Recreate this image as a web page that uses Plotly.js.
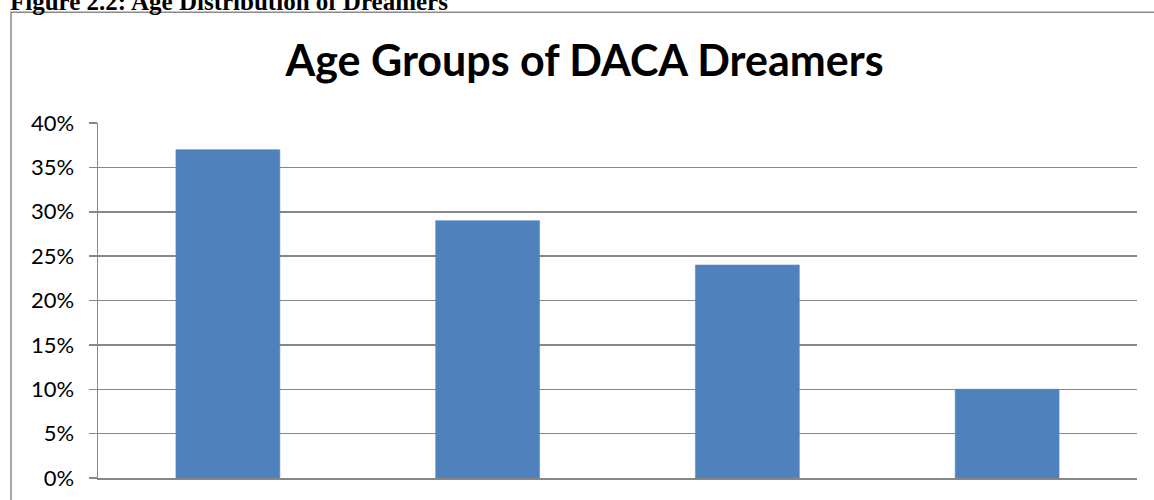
<!DOCTYPE html>
<html>
<head>
<meta charset="utf-8">
<script src="https://cdn.plot.ly/plotly-3.0.1.min.js"></script>
<style>
html, body { margin: 0; padding: 0; background: #ffffff; }
#chart { width: 1154px; height: 500px; }
</style>
</head>
<body>
<div id="chart"></div>
<script>
// Data
const ageGroups = ["15-18", "19-24", "25-30", "31+"];
const shares = [0.37, 0.29, 0.24, 0.10];
const yTickValues = [0, 0.05, 0.10, 0.15, 0.20, 0.25, 0.30, 0.35, 0.40];
const chartTitle = "Age Groups of DACA Dreamers";
const figureCaption = "Figure 2.2: Age Distribution of Dreamers";

// Layout geometry (px)
const W = 1154, H = 500;
const mL = 98, mR = 17, mT = 122.5, mB = 22;
const plotW = W - mL - mR, plotH = H - mT - mB;
const px2x = (px) => (px - mL) / plotW;
const py2y = (py) => (H - mB - py) / plotH;

const gridColor = "#878787";

const trace = {
  type: "bar",
  x: ageGroups,
  y: shares,
  marker: { color: "#4F81BD", line: { color: "#5B8BC4", width: 0.6 } },
  width: 0.4,
  hoverinfo: "x+y"
};

const layout = {
  width: W,
  height: H,
  margin: { l: mL, r: mR, t: mT, b: mB, pad: 0 },
  paper_bgcolor: "#ffffff",
  plot_bgcolor: "#ffffff",
  showlegend: false,
  title: {
    text: "<b>" + chartTitle + "</b>",
    font: { family: "Lato, 'Open Sans', sans-serif", size: 43, color: "#000000" },
    x: 584.5 / W,
    xanchor: "center",
    xref: "container",
    y: 1 - 61 / H,
    yanchor: "middle",
    yref: "container"
  },
  xaxis: {
    type: "category",
    showticklabels: false,
    showgrid: false,
    showline: true,
    linecolor: gridColor,
    linewidth: 1.5,
    ticks: "",
    zeroline: false,
    fixedrange: true
  },
  yaxis: {
    range: [0, 0.4],
    tickvals: yTickValues,
    tickformat: ".0%",
    showgrid: true,
    gridcolor: gridColor,
    gridwidth: 1.5,
    showline: true,
    linecolor: gridColor,
    linewidth: 1.5,
    ticks: "outside",
    ticklen: 8,
    tickwidth: 1.5,
    tickcolor: gridColor,
    ticklabelstandoff: 10,
    zeroline: false,
    tickfont: { family: "Lato, 'Open Sans', sans-serif", size: 22, color: "#000000" },
    fixedrange: true
  },
  bargap: 0.6,
  shapes: [
    {
      type: "rect",
      xref: "paper", yref: "paper",
      x0: px2x(11), x1: px2x(1200),
      y0: py2y(560), y1: py2y(11.5),
      line: { color: "#8a8a8a", width: 1.5 },
      fillcolor: "rgba(0,0,0,0)",
      layer: "below"
    }
  ],
  annotations: [
    {
      text: "<b>" + figureCaption + "</b>",
      xref: "paper", yref: "paper",
      x: px2x(8), y: py2y(16.5),
      xanchor: "left", yanchor: "bottom",
      showarrow: false,
      font: { family: "'Liberation Serif', 'Times New Roman', serif", size: 25, color: "#000000" }
    }
  ]
};

Plotly.newPlot("chart", [trace], layout, { displayModeBar: false, staticPlot: true });
</script>
</body>
</html>
